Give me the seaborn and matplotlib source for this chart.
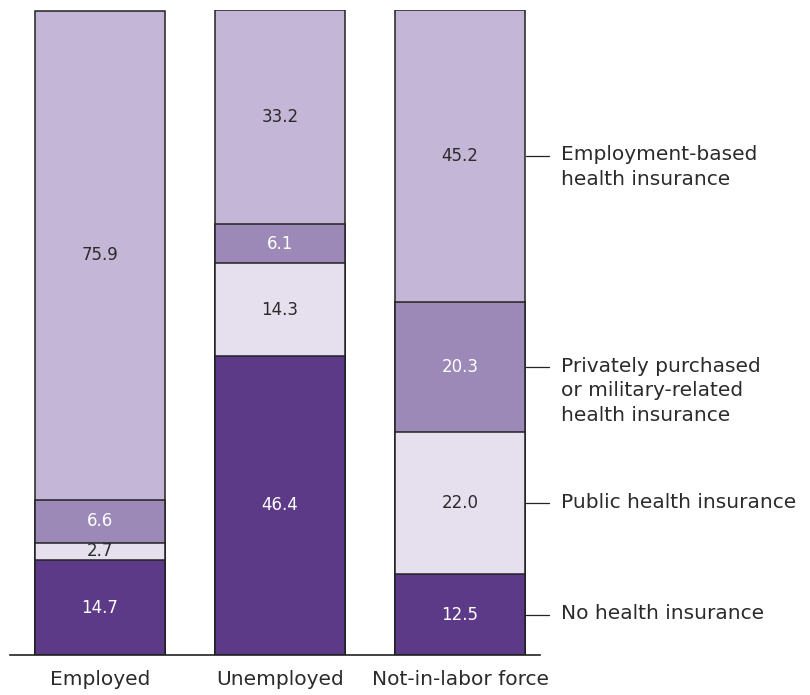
import matplotlib
matplotlib.use("Agg")
import matplotlib.pyplot as plt
import matplotlib.transforms as mtransforms
import seaborn as sns
import pandas as pd
import numpy as np

categories = ["Employed", "Unemployed", "Not-in-labor force"]
no_insurance = [14.7, 46.4, 12.5]
public = [2.7, 14.3, 22.0]
private_military = [6.6, 6.1, 20.3]
employment_based = [75.9, 33.2, 45.2]

series_names = ["No health insurance", "Public health insurance",
                "Privately purchased\nor military-related\nhealth insurance",
                "Employment-based\nhealth insurance"]
series_values = [no_insurance, public, private_military, employment_based]
colors = ["#5c3a87", "#e6e0ee", "#9c89b8", "#c4b6d6"]
text_colors = ["white", "#2b2b2b", "white", "#2b2b2b"]

sns.set_theme(style="white")
plt.rcParams["font.family"] = ["DejaVu Sans"]

fig = plt.figure(figsize=(8.1, 6.95), dpi=100)
ax = fig.add_axes([10 / 810, 40 / 695, 530 / 810, 645 / 695])

vals = np.array(series_values)
cum = np.cumsum(vals, axis=0)

# draw from the top layer down so the stacks overplot
for i in range(len(series_names) - 1, -1, -1):
    df = pd.DataFrame({"cat": categories, "val": cum[i]})
    sns.barplot(data=df, x="cat", y="val", color=colors[i], width=0.722,
                edgecolor="#222222", linewidth=1.1, saturation=1, ax=ax, zorder=2)

for i in range(len(series_names)):
    for j in range(len(categories)):
        base = cum[i][j] - vals[i][j]
        mid = base + vals[i][j] / 2
        ax.text(j, mid, f"{vals[i][j]:.1f}", ha="center", va="center",
                color=text_colors[i], fontsize=12, zorder=5)

ax.set_xlim(-0.5, 2.444)
ax.set_ylim(0, 100)
ax.set_xlabel("")
ax.set_ylabel("")
ax.set_yticks([])
ax.tick_params(axis="x", length=0, pad=10.5, labelsize=14.5, labelcolor="#2b2b2b")
for s in ["top", "left", "right"]:
    ax.spines[s].set_visible(False)
ax.spines["bottom"].set_color("#222222")
ax.spines["bottom"].set_linewidth(1.2)

# right-side labels for the last bar
trans = mtransforms.blended_transform_factory(fig.transFigure, ax.transData)
text_trans = trans + mtransforms.ScaledTranslation(0, 7.5 / 72, fig.dpi_scale_trans)
last = len(categories) - 1
for i, name in enumerate(series_names):
    base = cum[i][last] - vals[i][last]
    mid = base + vals[i][last] / 2
    ax.plot([526 / 810, 549 / 810], [mid, mid], transform=trans, color="#222222",
            lw=0.9, clip_on=False)
    ax.text(561 / 810, mid, name, transform=text_trans, ha="left", va="top",
            fontsize=14.5, color="#2b2b2b", linespacing=1.38, clip_on=False)

fig.savefig("out.png", dpi=100)
